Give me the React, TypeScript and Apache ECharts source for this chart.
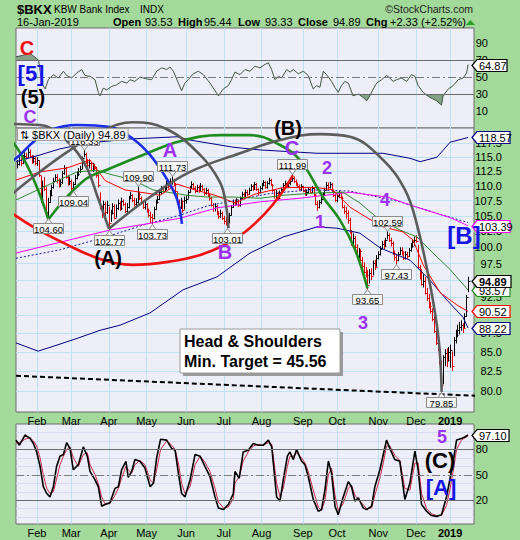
import React, { useEffect, useRef } from "react";
import * as echarts from "echarts";

const FONT = '"Liberation Sans", Arial, Helvetica, sans-serif';

const monthStarts = [11, 30, 51, 72, 94, 115, 136, 159, 178, 201, 222, 241];
const monthLabels = ["Feb", "Mar", "Apr", "May", "Jun", "Jul", "Aug", "Sep", "Oct", "Nov", "Dec", "2019"];
const priceTicks = [80, 82.5, 85, 87.5, 90, 92.5, 95, 97.5, 100, 102.5, 105, 107.5, 110, 112.5, 115, 117.5];
const priceLabelTicks = [80, 82.5, 85, 87.5, 92.5, 97.5, 100, 102.5, 105, 107.5, 110, 112.5, 115, 117.5];
const rsiTicks = [10, 30, 50, 70, 90];
const stochTicks = [20, 50, 80];
const stochGridTicks = [0, 10, 20, 30, 40, 50, 60, 70, 80, 90, 100];

const closes = [
  113.8, 114.5, 114.0, 114.9, 115.3, 115.0, 116.0, 115.2, 114.3, 114.8,
  113.9, 114.5, 111.9, 107.8, 110.0, 109.5, 105.6, 107.3, 108.5, 109.8,
  110.9, 111.5, 111.0, 110.3, 110.6, 112.2, 113.0, 111.6, 110.5, 110.8,
  109.6, 110.3, 111.4, 112.0, 112.6, 112.9, 114.8, 115.6, 114.2, 113.6,
  113.9, 112.8, 113.4, 113.0, 111.8, 110.2, 106.4, 105.3, 106.9, 105.6,
  106.8, 103.9, 105.4, 106.6, 104.7, 106.3, 107.1, 106.2, 107.4, 107.0,
  105.8, 106.4, 107.9, 108.4, 107.6, 106.9, 107.2, 108.6, 107.9, 107.2,
  106.5, 106.9, 105.9, 105.2, 104.8, 104.6, 106.1, 107.3, 107.8, 108.9,
  109.5, 109.2, 109.8, 110.4, 109.9, 110.7, 111.0, 110.3, 109.1, 107.2,
  106.5, 107.4, 106.0, 107.6, 107.8, 108.9, 109.6, 110.3, 109.7, 109.1,
  109.8, 109.2, 110.0, 109.4, 108.7, 109.3, 108.5, 107.9, 106.8, 106.2,
  106.6, 105.4, 104.9, 105.5, 104.6, 104.2, 104.0, 103.9, 105.2, 106.4,
  107.3, 106.9, 107.5, 106.8, 107.9, 108.6, 108.1, 109.0, 108.6, 109.3,
  109.9, 109.5, 110.3, 109.4, 108.9, 109.7, 110.1, 110.6, 109.8, 110.4,
  111.0, 110.2, 109.3, 108.2, 108.8, 108.0, 108.9, 109.4, 110.2, 110.5,
  109.9, 110.4, 110.9, 111.3, 110.8, 110.3, 110.0, 109.5, 109.9, 109.2,
  108.6, 108.9, 109.4, 109.0, 109.6, 108.5, 107.0, 106.4, 107.2, 107.8,
  108.5, 109.3, 110.2, 109.8, 110.3, 109.1, 108.4, 107.6, 108.2, 108.7,
  108.0, 106.5, 105.8, 105.5, 104.3, 102.4, 100.6, 101.5, 100.1, 98.6,
  99.4, 98.0, 97.1, 96.3, 95.8, 94.3, 96.1, 95.7, 97.6, 97.0,
  98.4, 98.9, 99.8, 100.5, 100.2, 101.1, 101.9, 101.2, 100.6, 99.1,
  98.5, 98.0, 98.9, 99.6, 99.2, 98.4, 98.9, 98.6, 99.5, 100.2,
  100.8, 101.2, 101.0, 97.0, 96.3, 94.5, 94.9, 93.2, 92.4, 91.3,
  90.6, 89.4, 87.8, 86.2, 85.4, 83.6, 80.7, 84.3, 84.9, 83.9,
  85.0, 85.3, 83.2, 86.6, 87.3, 88.0, 88.4, 88.6, 88.2, 89.9,
  92.56, 94.89,
];

const highs = [
  114.4, 114.9, 114.8, 115.3, 115.8, 115.7, 116.5, 116.3, 115.3, 115.2,
  115.0, 114.9, 114.3, 111.6, 110.8, 111.4, 109.8, 107.9, 109.2, 110.1,
  111.3, 111.9, 111.9, 111.2, 111.0, 112.5, 113.5, 113.2, 111.8, 111.5,
  111.0, 110.6, 111.8, 112.4, 113.0, 113.4, 115.0, 116.33, 115.7, 114.6,
  114.5, 114.0, 113.9, 113.7, 113.2, 111.9, 108.8, 106.6, 107.4, 107.2,
  107.4, 106.4, 105.9, 107.0, 106.8, 106.8, 107.6, 107.3, 107.9, 107.6,
  107.1, 107.0, 108.2, 108.9, 108.5, 107.9, 107.8, 109.9, 108.9, 108.1,
  107.3, 107.4, 107.0, 106.1, 105.6, 105.2, 106.4, 107.6, 108.2, 109.2,
  109.9, 109.9, 110.1, 110.8, 110.6, 111.2, 111.73, 111.1, 110.4, 108.9,
  107.6, 107.9, 107.5, 108.1, 108.3, 109.2, 109.9, 110.7, 110.4, 109.9,
  110.1, 110.0, 110.4, 110.1, 109.5, 109.6, 109.4, 108.6, 108.0, 107.0,
  107.0, 106.7, 105.7, 105.9, 105.6, 104.9, 104.7, 104.4, 105.4, 106.7,
  107.6, 107.6, 107.8, 107.6, 108.1, 108.9, 108.8, 109.3, 109.2, 109.6,
  110.2, 110.1, 110.6, 110.4, 109.5, 109.9, 110.4, 110.9, 110.7, 110.7,
  111.3, 111.1, 110.2, 109.2, 109.2, 108.9, 109.1, 109.6, 110.4, 110.8,
  110.6, 110.6, 111.2, 111.99, 111.5, 111.0, 110.5, 110.1, 110.2, 109.9,
  109.4, 109.3, 109.7, 109.6, 109.9, 109.7, 108.6, 107.4, 107.5, 108.1,
  108.8, 109.6, 110.6, 110.5, 110.6, 110.4, 109.3, 108.6, 108.5, 109.1,
  108.9, 108.1, 106.7, 106.4, 105.8, 104.6, 102.6, 102.1, 101.7, 100.4,
  99.8, 99.6, 98.4, 97.6, 96.9, 96.4, 96.6, 96.7, 97.9, 98.0,
  98.7, 99.3, 100.1, 100.9, 101.0, 101.4, 102.59, 102.1, 101.4, 100.8,
  99.4, 98.9, 99.2, 99.9, 99.9, 99.3, 99.3, 99.2, 99.8, 100.6,
  101.1, 101.6, 101.8, 100.3, 97.2, 96.6, 95.8, 95.4, 93.8, 92.9,
  91.8, 90.9, 89.8, 88.1, 87.0, 86.2, 83.8, 84.5, 85.3, 85.4,
  85.6, 85.9, 85.0, 86.9, 87.9, 88.6, 89.0, 89.2, 88.8, 90.2,
  92.8, 95.44,
];

const lows = [
  113.1, 113.6, 113.5, 113.9, 114.6, 114.7, 115.0, 114.9, 113.9, 114.0,
  113.6, 113.5, 111.6, 107.2, 106.8, 109.2, 105.4, 104.6, 107.2, 108.3,
  109.6, 110.8, 110.5, 109.8, 109.9, 110.4, 112.0, 111.3, 110.1, 110.2,
  109.3, 109.04, 110.2, 111.2, 111.8, 112.3, 113.0, 115.1, 113.9, 113.2,
  113.1, 112.6, 112.5, 112.6, 111.5, 109.8, 106.1, 104.7, 105.2, 105.1,
  105.4, 102.77, 104.1, 105.3, 104.5, 104.8, 106.0, 105.9, 106.0, 106.7,
  105.5, 105.6, 106.3, 107.8, 107.3, 106.6, 106.6, 107.1, 107.7, 107.0,
  106.2, 106.1, 105.6, 104.8, 103.9, 103.73, 104.5, 106.0, 107.1, 107.7,
  108.6, 108.9, 109.1, 109.4, 109.6, 109.8, 110.3, 110.1, 108.8, 106.9,
  105.8, 106.2, 105.6, 106.1, 107.1, 107.9, 108.9, 109.5, 109.4, 108.8,
  109.0, 108.9, 109.1, 109.2, 108.4, 108.6, 108.2, 107.6, 106.6, 105.7,
  105.8, 105.2, 104.6, 104.7, 104.4, 103.7, 103.5, 103.01, 103.9, 105.1,
  106.4, 106.7, 106.8, 106.5, 106.6, 107.8, 107.8, 108.0, 108.3, 108.6,
  109.2, 109.2, 109.4, 109.2, 108.4, 108.8, 109.4, 110.0, 109.6, 109.6,
  110.3, 110.1, 109.0, 107.9, 107.9, 107.7, 107.9, 108.8, 109.3, 110.0,
  109.7, 109.8, 110.2, 110.9, 110.6, 110.1, 109.7, 109.3, 109.2, 109.0,
  108.4, 108.4, 108.8, 108.9, 108.9, 108.3, 106.8, 105.9, 106.3, 107.0,
  107.7, 108.4, 109.3, 109.5, 109.6, 109.0, 108.2, 107.4, 107.3, 108.0,
  107.8, 106.3, 105.4, 104.6, 103.8, 102.2, 100.3, 100.5, 99.9, 98.4,
  98.4, 97.8, 96.9, 96.1, 95.5, 93.65, 94.6, 95.1, 95.8, 96.6,
  97.1, 98.2, 98.8, 99.8, 99.8, 100.1, 101.3, 100.9, 100.2, 98.9,
  98.0, 97.43, 97.9, 98.9, 98.8, 98.1, 98.2, 98.3, 98.6, 99.4,
  100.0, 100.3, 100.8, 96.8, 95.2, 94.3, 94.0, 93.0, 92.1, 91.0,
  90.3, 89.2, 87.6, 86.0, 85.2, 83.4, 79.85, 80.9, 83.2, 83.1,
  83.8, 83.0, 82.6, 84.5, 86.2, 87.0, 87.4, 87.9, 87.6, 88.3,
  89.8, 93.33,
];

// moving averages and bands: [trading-day index, value]
const upperBand = [[-0.7, 114.2], [12.7, 115.4], [23.8, 116.5], [40.5, 117.6], [62.8, 118.3], [89, 118.7], [96.2, 118.1], [120.1, 116.8], [135.2, 116.3], [166.9, 115.7], [203.7, 115.7], [218.7, 114.8], [224.3, 114.2], [233.7, 115.0], [241, 117.7], [251, 118.57]];
const lowerBand = [[-0.7, 86.2], [11.6, 85.1], [18.2, 85.6], [33.3, 86.8], [46.1, 87.9], [57.2, 88.6], [73.9, 90.3], [92.3, 93.6], [111.2, 95.5], [129.6, 99.1], [148, 101.6], [166.9, 103.2], [178, 103.0], [190.8, 102.2], [202, 99.9], [218.7, 98.0], [229.8, 95.0], [239.3, 92.1], [248.2, 89.7], [251, 88.22]];
const ma200 = [[-0.7, 99.1], [51.6, 102.7], [90.6, 104.6], [111.2, 106.3], [135.2, 107.3], [157.4, 107.9], [185.3, 108.9], [205.9, 108.1], [222.6, 106.4], [241, 104.7], [251, 103.39]];
const maDotted = [[-0.7, 98.3], [23.8, 99.6], [51.6, 101.8], [70, 103.5], [90.6, 105.1], [105.6, 106.6], [124, 107.7], [140.7, 108.7], [163, 109.3], [185.3, 109.1], [213.1, 107.3], [231.5, 105.6], [251, 103.9]];
const maRed = [[-0.7, 111.0], [12.7, 112.4], [27.7, 113.1], [40.5, 114.5], [48.9, 110.9], [60, 109.3], [71.1, 108.8], [79.5, 108.4], [89, 110.3], [99, 109.3], [110.1, 108.4], [121.2, 107.1], [132.4, 108.6], [148, 109.7], [166.9, 109.7], [175.8, 109.3], [185.3, 106.4], [194.7, 104.7], [203.7, 103.2], [214.8, 102.4], [220.4, 101.1], [226, 97.3], [235.4, 93.2], [244.9, 91.4], [251, 90.52]];
const maGreen = [[-0.7, 107.6], [18.2, 110.3], [33.3, 112.4], [44.4, 112.7], [51.6, 112.0], [64.5, 111.0], [75.6, 109.3], [94.5, 108.4], [105.6, 108.1], [120.1, 108.1], [135.2, 107.9], [148, 108.4], [166.9, 108.8], [181.4, 108.9], [190.8, 107.1], [200.3, 104.7], [213.1, 102.7], [222.6, 101.6], [231.5, 99.1], [241, 96.6], [251, 93.57]];

// cycle arcs and trendline: [trading-day index, price]
const arcGreenA = [[-9.6, 119.9], [-2.4, 117.7], [5.4, 113.6], [12.7, 108.4], [17.3, 104.4]];
const arcGreenB = [[17.3, 104.4], [36.6, 110.8], [51.6, 113.0], [70, 115.4], [90.6, 117.9], [112.9, 119.0], [129.6, 119.0], [146.3, 117.2], [157.4, 114.5], [170.2, 108.1], [179.7, 104.3], [188.1, 99.6], [195, 93.8]];
const arcGrayA = [[-9.6, 121.1], [12.7, 120.9], [23.8, 119.0], [33.3, 115.9], [39.4, 112.7], [44.4, 108.4], [51.1, 102.9]];
const arcGrayB = [[-9.6, 106.9], [8.8, 111.5], [27.7, 115.9], [46.1, 119.6], [64.5, 121.4], [83.4, 120.1], [101.8, 115.4], [112.9, 110.6], [116.2, 106.8], [117.6, 103.0]];
const arcGrayC = [[51, 102.9], [73.9, 108.1], [96.2, 112.4], [124, 115.7], [146.3, 118.1], [168.6, 119.2], [185.3, 118.7], [203.7, 114.5], [215.9, 109.3], [222.6, 103.5], [229.8, 94.4], [234.6, 86.7], [236.3, 79.9]];
const arcBlue = [[-9.6, 112.7], [1.5, 115.4], [8.8, 117.7], [18.2, 119.9], [33.3, 120.9], [51.6, 120.5], [64.5, 118.3], [73.9, 115.4], [83.4, 111.1], [89, 107.7], [91.7, 103.7]];
const arcRed = [[-9.6, 106.8], [8.8, 103.2], [27.7, 100.4], [46.1, 98.2], [64.5, 97.3], [85.1, 97.8], [101.8, 98.8], [115.7, 100.4], [126.8, 102.4], [138, 105.4], [146.3, 108.4], [153.5, 111.8]];
const trendLine = [[-9.6, 82.0], [266, 79.3]];

const priceLabels = [
  { i: 37, v: 116.33, dir: -1 }, { i: 31, v: 109.04, dir: 1 }, { i: 17, v: 104.6, dir: 1 },
  { i: 51, v: 102.77, dir: 1 }, { i: 67, v: 109.9, dir: -1 }, { i: 75, v: 103.73, dir: 1 },
  { i: 86, v: 111.73, dir: -1 }, { i: 117, v: 103.01, dir: 1 }, { i: 153, v: 111.99, dir: -1 },
  { i: 195, v: 93.65, dir: 1 }, { i: 206, v: 102.59, dir: -1 }, { i: 211, v: 97.43, dir: 1 },
  { i: 236, v: 79.85, dir: 1 },
];

const priceTags = [
  { v: 118.57, c: "#000080" }, { v: 103.39, c: "#ff00ff" }, { v: 93.57, c: "#228b22" },
  { v: 94.89, c: "#000000", b: true }, { v: 90.52, c: "#ff0000" }, { v: 88.22, c: "#000080" },
];

const rsi = [[-0.7, 74], [3.4, 76], [7.1, 78], [10.8, 72], [11.9, 70], [13.6, 43], [15.5, 36], [17.3, 47], [20.1, 53], [22.9, 49], [25.7, 57], [27.5, 52], [30.3, 49], [33.1, 55], [35.9, 59], [37.7, 52], [40.5, 51], [43.3, 47], [45.1, 32], [46.1, 28], [47.9, 37], [49.8, 35], [52.6, 39], [55.3, 41], [58.1, 45], [61, 43], [62.8, 47], [65.5, 45], [68.3, 50], [72, 48], [74.8, 47], [77.6, 57], [80.4, 61], [83.2, 59], [85, 62], [86.9, 57], [89.7, 43], [91.5, 34], [93.3, 43], [95.2, 47], [98, 54], [100.8, 57], [103.6, 53], [107.3, 43], [110.1, 34], [112, 28], [114.7, 36], [117.5, 40], [119.3, 47], [121.2, 56], [124, 53], [126.8, 59], [129.6, 57], [132.3, 63], [135.1, 61], [137.9, 65], [139.8, 67], [141.6, 59], [143.5, 47], [145.4, 51], [147.2, 49], [150, 59], [151.9, 56], [153.7, 59], [156.5, 54], [159.3, 57], [162, 52], [164.8, 36], [166.7, 40], [168.5, 38], [170.4, 57], [172.2, 53], [175, 45], [176.8, 38], [178.7, 32], [180.5, 40], [182.4, 45], [184.3, 43], [187, 28], [189.9, 30], [192.6, 26], [194.5, 22], [196.3, 28], [198.2, 36], [200.1, 43], [202.9, 47], [205.6, 52], [207.4, 49], [209.3, 45], [211.1, 47], [214, 49], [216.8, 45], [219.5, 53], [221.4, 51], [223.2, 40], [226, 32], [229.8, 26], [233.5, 22], [236.2, 17], [237.1, 28], [240, 36], [242.7, 40], [245.5, 47], [248.3, 49], [250.2, 55], [251, 64.87]];

const stochK = [[-0.7, 91], [1.2, 85], [4.3, 97], [7.1, 93], [9, 87], [10.8, 77], [12.7, 60], [14.5, 36], [16.4, 28], [18.2, 24], [20.1, 36], [21.9, 60], [23.8, 72], [25.7, 74], [27.5, 88], [29.4, 81], [31.2, 56], [34, 62], [36.8, 83], [39, 72], [40.5, 54], [43.3, 44], [45.1, 36], [47, 13], [48.8, 15], [51.6, 17], [54.4, 34], [56.3, 36], [58.1, 56], [60.5, 66], [61.8, 47], [63.7, 54], [65.5, 68], [68.3, 66], [71.1, 58], [74, 36], [75.8, 40], [77.6, 70], [79.8, 92], [83.2, 91], [86, 81], [87.9, 79], [89.7, 52], [91.5, 28], [93.4, 24], [96.2, 44], [99, 74], [101.8, 72], [104.5, 60], [107.3, 48], [110.1, 24], [112, 11], [114.8, 9], [117.5, 15], [120.3, 28], [121.2, 54], [123.6, 46], [125.8, 77], [128.6, 79], [131.4, 87], [134.2, 85], [137, 85], [139.8, 91], [141.7, 83], [144.4, 24], [146.3, 19], [148.1, 44], [150.4, 72], [151.8, 77], [153.7, 68], [155.5, 80], [158.3, 66], [160.2, 62], [162, 48], [164.8, 21], [167.6, 7], [169.4, 9], [171.3, 32], [173.2, 66], [175, 52], [176.9, 13], [178.7, 3], [181.5, 24], [184.3, 42], [186.1, 36], [188, 19], [189.9, 23], [192.6, 11], [194.5, 9], [197.3, 13], [199.1, 36], [201.9, 56], [203.8, 74], [205.6, 91], [207.5, 81], [210.2, 68], [213, 66], [215.8, 21], [218.6, 40], [221.4, 78], [223.2, 56], [225.1, 15], [227.9, 7], [230.7, 2], [233.5, 1], [236.2, 3], [239, 24], [241, 46], [242.7, 66], [244.6, 91], [247.3, 93], [249.5, 95], [251, 97.1]];

const stochD = [[-0.7, 88], [1.2, 88], [4.3, 92], [7.1, 94], [9, 90], [10.8, 84], [12.7, 70], [14.5, 50], [16.4, 34], [18.2, 28], [20.1, 30], [21.9, 45], [23.8, 62], [25.7, 72], [27.5, 80], [29.4, 83], [31.2, 70], [34, 60], [36.8, 74], [39, 76], [40.5, 62], [43.3, 50], [45.1, 40], [47, 24], [48.8, 16], [51.6, 16], [54.4, 26], [56.3, 34], [58.1, 46], [60.5, 60], [61.8, 56], [63.7, 52], [65.5, 62], [68.3, 67], [71.1, 62], [74, 44], [75.8, 40], [77.6, 56], [79.8, 80], [83.2, 90], [86, 85], [87.9, 80], [89.7, 64], [91.5, 40], [93.4, 28], [96.2, 36], [99, 62], [101.8, 72], [104.5, 65], [107.3, 54], [110.1, 34], [112, 18], [114.8, 11], [117.5, 12], [120.3, 22], [121.2, 40], [123.6, 48], [125.8, 66], [128.6, 77], [131.4, 84], [134.2, 86], [137, 85], [139.8, 88], [141.7, 86], [144.4, 40], [146.3, 24], [148.1, 34], [150.4, 60], [151.8, 72], [153.7, 72], [155.5, 76], [158.3, 70], [160.2, 64], [162, 54], [164.8, 32], [167.6, 12], [169.4, 8], [171.3, 20], [173.2, 50], [175, 58], [176.9, 26], [178.7, 8], [181.5, 16], [184.3, 34], [186.1, 38], [188, 26], [189.9, 21], [192.6, 15], [194.5, 10], [197.3, 11], [199.1, 26], [201.9, 46], [203.8, 64], [205.6, 84], [207.5, 84], [210.2, 73], [213, 67], [215.8, 34], [218.6, 32], [221.4, 64], [223.2, 64], [225.1, 28], [227.9, 10], [230.7, 4], [233.5, 2], [236.2, 2], [239, 14], [241, 34], [242.7, 54], [244.6, 80], [247.3, 91], [249.5, 94], [251, 96]];

const L = Math.log;
const XMIN = -0.7;
const XMAX = 254.3;

function App() {
  const ref = useRef<HTMLDivElement>(null);
  useEffect(() => {
    if (!ref.current) return;
    const chart = echarts.init(ref.current, null, { renderer: "svg", width: 520, height: 540 });
    const GRID_BG = "#eeeef8";
    const SPLIT = "#bde3f2";
    const toP = (arr: number[][]) => arr.map(([x, v]) => [x, L(v)]);

    const xAxisBase = (gi: number, showLabels: boolean) => ({
      type: "value", gridIndex: gi, min: XMIN, max: XMAX,
      axisLine: { show: false },
      axisTick: { show: false, customValues: monthStarts },
      axisLabel: {
        show: showLabels, customValues: monthStarts, margin: 3,
        fontFamily: FONT, fontSize: 11, color: "#000",
        formatter: (v: number) => {
          const k = monthStarts.indexOf(Math.round(v));
          const t = monthLabels[k] || "";
          return t === "2019" ? "{b|2019}" : t;
        },
        rich: { b: { fontWeight: "bold", fontFamily: FONT, fontSize: 11, color: "#000" } },
      },
      splitLine: { show: true, lineStyle: { color: SPLIT, width: 1 } },
    });

    const lineS = (data: number[][], color: string, width: number, gi: number, extra: any = {}) => ({
      type: "line", xAxisIndex: gi, yAxisIndex: gi, data, symbol: "none", silent: true,
      lineStyle: { color, width }, animation: false, ...extra,
    });

    const barData = closes.map((c, i) => [i, L(highs[i]), L(lows[i]), L(c), i > 0 && c < closes[i - 1] ? 1 : 0]);

    const tagShape = (x0: number, y: number, text: string, color: string, bold: boolean, w = 34) => ({
      type: "group",
      children: [
        { type: "polygon", shape: { points: [[x0 - 4, y], [x0 + 1, y - 6], [x0 + w, y - 6], [x0 + w, y + 6], [x0 + 1, y + 6]] }, style: { fill: "#ffffff", stroke: color, lineWidth: 1.2 } },
        { type: "text", x: x0 + 3, y: y + 0.5, style: { text, font: `${bold ? "bold " : ""}11px ${FONT}`, fill: "#000", align: "left", verticalAlign: "middle" } },
      ],
    });

    const wave = (t: string, x: number, y: number, color: string, size: number) => ({
      type: "text", x, y, z: 50,
      style: { text: t, font: `bold ${size}px ${FONT}`, fill: color, align: "center", verticalAlign: "middle" },
    });
    const hdr = (t: string, x: number, y: number, size: number, bold = false, align = "left", fill = "#000") => ({
      type: "text", x, y, z: 50,
      style: { text: t, font: `${bold ? "bold " : ""}${size}px ${FONT}`, fill, align, verticalAlign: "middle" },
    });

    const PURPLE = "#9a32f0";
    const BLUE = "#1414e6";
    const ARCW = 2.6;

    const option: any = {
      animation: false,
      backgroundColor: "#a3d99a",
      grid: [
        { left: 16, top: 28, width: 458, height: 100, show: true, backgroundColor: GRID_BG, borderColor: "#6d6d6d", borderWidth: 1 },
        { left: 16, top: 128, width: 458, height: 284, show: true, backgroundColor: GRID_BG, borderColor: "#6d6d6d", borderWidth: 1 },
        { left: 16, top: 424, width: 458, height: 100, show: true, backgroundColor: GRID_BG, borderColor: "#6d6d6d", borderWidth: 1 },
      ],
      xAxis: [xAxisBase(0, false), xAxisBase(1, true), xAxisBase(2, true)],
      yAxis: [
        {
          type: "value", gridIndex: 0, position: "right", min: -10.1, max: 108.1,
          axisLine: { show: false }, axisTick: { show: false },
          axisLabel: { customValues: rsiTicks, fontFamily: FONT, fontSize: 11, color: "#000", margin: 14, align: "right" },
          splitLine: { show: false },
        },
        {
          type: "value", gridIndex: 1, position: "right", min: L(77.43), max: L(120.33),
          axisLine: { show: false },
          axisTick: { show: false, customValues: priceTicks.map(L) },
          axisLabel: {
            customValues: priceLabelTicks.map(L), fontFamily: FONT, fontSize: 11, color: "#000", margin: 28, align: "right",
            formatter: (v: number) => Math.exp(v).toFixed(1),
          },
          splitLine: { show: true, lineStyle: { color: SPLIT, width: 1 } },
        },
        {
          type: "value", gridIndex: 2, position: "right", min: -8, max: 110,
          axisLine: { show: false },
          axisTick: { show: false, customValues: stochGridTicks },
          axisLabel: { customValues: stochTicks, fontFamily: FONT, fontSize: 11, color: "#000", margin: 14, align: "right" },
          splitLine: { show: true, lineStyle: { color: "#d8dcf0", width: 1 } },
        },
      ],
      series: [
        // RSI panel
        lineS(rsi.map(([x, v]) => [x, Math.max(v, 70)]), "rgba(0,0,0,0)", 0, 0, { areaStyle: { origin: 70, color: "#86a286", opacity: 1 } }),
        lineS(rsi.map(([x, v]) => [x, Math.min(v, 30)]), "rgba(0,0,0,0)", 0, 0, { areaStyle: { origin: 30, color: "#86a286", opacity: 1 } }),
        lineS(rsi, "#3f563f", 1, 0, {
          markLine: {
            silent: true, symbol: "none", label: { show: false }, animation: false,
            data: [
              { yAxis: 70, lineStyle: { color: "#6a6a6a", width: 1.2, type: "solid" } },
              { yAxis: 30, lineStyle: { color: "#6a6a6a", width: 1.2, type: "solid" } },
              { yAxis: 50, lineStyle: { color: "#7a7a7a", width: 1, type: [8, 3, 2, 3] } },
            ],
          },
        }),
        {
          type: "custom", xAxisIndex: 0, yAxisIndex: 0, clip: false, silent: true, z: 10,
          data: [[XMAX, rsi[rsi.length - 1][1]]],
          renderItem: (params: any, api: any) => {
            const p = api.coord([api.value(0), api.value(1)]);
            return tagShape(p[0] + 2, Math.round(p[1]) + 0.5, rsi[rsi.length - 1][1].toFixed(2), "#000", false, 31);
          },
        },
        // price panel lines
        lineS(toP(upperBand), "#000080", 1, 1),
        lineS(toP(lowerBand), "#000080", 1, 1),
        lineS(toP(maDotted), "#1a1aa0", 1, 1, { lineStyle: { color: "#1a1aa0", width: 1, type: [2, 2] } }),
        lineS(toP(ma200), "#ff00ff", 1, 1),
        lineS(toP(maGreen), "#2e8b2e", 1, 1),
        lineS(toP(maRed), "#ff0000", 1, 1),
        {
          type: "custom", xAxisIndex: 1, yAxisIndex: 1, silent: true, z: 3,
          data: barData,
          renderItem: (params: any, api: any) => {
            const x = api.value(0);
            const hi = api.coord([x, api.value(1)]);
            const lo = api.coord([x, api.value(2)]);
            const cl = api.coord([x, api.value(3)]);
            const color = api.value(4) ? "#e00000" : "#000000";
            const px = Math.round(hi[0]) + 0.5;
            const cy = Math.round(cl[1]) + 0.5;
            return {
              type: "group",
              children: [
                { type: "line", shape: { x1: px, y1: hi[1] - 0.5, x2: px, y2: lo[1] + 0.5 }, style: { stroke: color, lineWidth: 1 } },
                { type: "line", shape: { x1: px, y1: cy, x2: px + 2, y2: cy }, style: { stroke: color, lineWidth: 1 } },
              ],
            };
          },
        },
        lineS(toP(arcRed), "#ee1111", ARCW, 1, { smooth: 0.4, clip: false, z: 5 }),
        lineS(toP(arcGreenA), "#1f8c1f", ARCW, 1, { smooth: 0.4, clip: false, z: 5 }),
        lineS(toP(arcGreenB), "#1f8c1f", ARCW, 1, { smooth: 0.4, clip: false, z: 5 }),
        lineS(toP(arcBlue), "#1a2ee8", ARCW, 1, { smooth: 0.4, clip: false, z: 5 }),
        lineS(toP(arcGrayA), "#5c5c5c", ARCW, 1, { smooth: 0.4, clip: false, z: 5 }),
        lineS(toP(arcGrayB), "#5c5c5c", ARCW, 1, { smooth: 0.4, clip: false, z: 5 }),
        lineS(toP(arcGrayC), "#5c5c5c", ARCW, 1, { smooth: 0.4, clip: false, z: 5 }),
        lineS(toP(trendLine), "#000", 2, 1, { clip: false, z: 6, lineStyle: { color: "#000", width: 2, type: [5, 3] } }),
        {
          type: "custom", xAxisIndex: 1, yAxisIndex: 1, silent: true, clip: false, z: 8,
          data: priceLabels.map((p) => [p.i, L(p.v)]),
          renderItem: (params: any, api: any) => {
            const lab = priceLabels[params.dataIndex];
            const pt = api.coord([api.value(0), api.value(1)]);
            const w = 30, h = 10;
            const x = Math.round(pt[0]) + 0.5;
            const y = Math.round(pt[1]) + 0.5;
            const below = lab.dir > 0;
            const by = below ? y + 5 : y - 5 - h;
            const tri = below ? [[x, y], [x - 3.5, by], [x + 3.5, by]] : [[x, y], [x - 3.5, by + h], [x + 3.5, by + h]];
            return {
              type: "group",
              children: [
                { type: "rect", shape: { x: x - w / 2, y: by, width: w, height: h }, style: { fill: "#f5f5f5", stroke: "#8c8c8c", lineWidth: 1 } },
                { type: "polygon", shape: { points: tri }, style: { fill: "#f5f5f5", stroke: "#8c8c8c", lineWidth: 1 } },
                { type: "text", x, y: by + h / 2 + 0.5, style: { text: lab.v.toFixed(2), font: `9.5px ${FONT}`, fill: "#000", align: "center", verticalAlign: "middle" } },
              ],
            };
          },
        },
        {
          type: "custom", xAxisIndex: 1, yAxisIndex: 1, silent: true, clip: false, z: 10,
          data: priceTags.map((t) => [XMAX, L(t.v)]),
          renderItem: (params: any, api: any) => {
            const t = priceTags[params.dataIndex];
            const p = api.coord([api.value(0), api.value(1)]);
            return tagShape(p[0] + 2, Math.round(p[1]) + 0.5, t.v.toFixed(2), t.c, !!t.b, t.b ? 35 : 34);
          },
        },
        // stochastic panel
        lineS(stochD, "#c8284a", 1, 2),
        lineS(stochK, "#000", 1.6, 2, {
          markLine: {
            silent: true, symbol: "none", label: { show: false }, animation: false,
            data: [
              { yAxis: 80, lineStyle: { color: "#6a6a6a", width: 1.2, type: "solid" } },
              { yAxis: 20, lineStyle: { color: "#6a6a6a", width: 1.2, type: "solid" } },
              { yAxis: 50, lineStyle: { color: "#7a7a7a", width: 1, type: [8, 3, 2, 3] } },
            ],
          },
        }),
        {
          type: "custom", xAxisIndex: 2, yAxisIndex: 2, clip: false, silent: true, z: 10,
          data: [[XMAX, stochK[stochK.length - 1][1]]],
          renderItem: (params: any, api: any) => {
            const p = api.coord([api.value(0), api.value(1)]);
            return tagShape(p[0] + 2, Math.round(p[1]) + 0.5, stochK[stochK.length - 1][1].toFixed(2), "#000", false, 33);
          },
        },
      ],
      graphic: [
        hdr("$BKX", 17, 9, 13, true),
        hdr("KBW Bank Index", 54, 9, 10),
        hdr("INDX", 140, 9, 10),
        hdr("©StockCharts.com", 473, 9, 10.5, false, "right", "#222"),
        hdr("16-Jan-2019", 17, 22, 11),
        hdr("Open", 113, 22, 11, true), hdr("93.53", 145, 22, 11),
        hdr("High", 178, 22, 11, true), hdr("95.44", 204, 22, 11),
        hdr("Low", 238, 22, 11, true), hdr("93.33", 265, 22, 11),
        hdr("Close", 298, 22, 11, true), hdr("94.89", 333, 22, 11),
        hdr("Chg", 366, 22, 11, true), hdr("+2.33 (+2.52%)", 390, 22, 11),
        { type: "polygon", z: 50, shape: { points: [[466, 25], [475, 25], [470.5, 20]] }, style: { fill: "#2aa02a" } },
        {
          type: "text", x: 18, y: 134.5, z: 50,
          style: {
            text: "⇅ $BKX (Daily) 94.89", font: `11px ${FONT}`, fill: "#000", verticalAlign: "middle",
            backgroundColor: "rgba(246,246,250,0.92)", borderColor: "#a0a0a0", borderWidth: 1, padding: [0, 2, 0, 2],
          },
        },
        wave("C", 27, 48, "#ee1111", 20),
        wave("[5]", 31, 73, BLUE, 22),
        wave("(5)", 33, 97, "#000", 20),
        wave("C", 30, 117, PURPLE, 18),
        wave("(B)", 288, 128, "#000", 20),
        wave("A", 170, 150, PURPLE, 20),
        wave("(A)", 108, 258, "#000", 20),
        wave("B", 225, 252, PURPLE, 20),
        wave("C", 292, 148, PURPLE, 20),
        wave("2", 327, 168, PURPLE, 18),
        wave("1", 320, 222, PURPLE, 18),
        wave("4", 385, 200, PURPLE, 18),
        wave("3", 363, 323, PURPLE, 18),
        wave("[B]", 464, 235, BLUE, 24),
        wave("5", 442, 437, PURPLE, 18),
        wave("(C)", 440, 460, "#000", 22),
        wave("[A]", 441, 487, BLUE, 22),
        { type: "rect", z: 49, shape: { x: 183, y: 332, width: 160, height: 44 }, style: { fill: "#9a9a9a" } },
        { type: "rect", z: 50, shape: { x: 180, y: 329, width: 160, height: 44 }, style: { fill: "#ffffff", stroke: "#9a9a9a", lineWidth: 1 } },
        hdr("Head & Shoulders", 184, 341, 16, true),
        hdr("Min. Target = 45.56", 184, 361, 16, true),
      ],
    };
    chart.setOption(option);
    return () => chart.dispose();
  }, []);
  return <div ref={ref} style={{ position: "fixed", left: 0, top: 0, width: 520, height: 540 }} />;
}

export default App;
